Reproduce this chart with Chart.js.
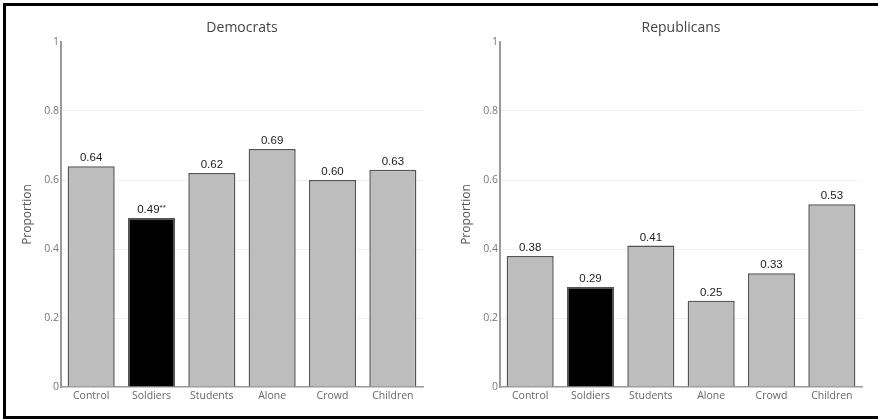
<!DOCTYPE html>
<html>
<head>
<meta charset="utf-8">
<script src="https://cdn.jsdelivr.net/npm/chart.js@4.4.1/dist/chart.umd.min.js"></script>
<style>
	body { margin: 0; background: #fff; }
	#page { position: relative; width: 878px; height: 419px; overflow: hidden; }
	#frame {
		position: absolute; left: 3px; top: 3px; width: 900px; height: 410px;
		border-top: 3px solid #000; border-left: 3px solid #000; border-bottom: 3px solid #000;
	}
	.panel { position: absolute; top: 0; width: 439px; height: 419px; }
	#demPanel { left: 0; }
	#repPanel { left: 439px; }
</style>
</head>
<body>
<div id="page">
	<div id="frame"></div>
	<div class="panel" id="demPanel"><canvas id="demChart" width="439" height="419"></canvas></div>
	<div class="panel" id="repPanel"><canvas id="repChart" width="439" height="419"></canvas></div>
</div>
<script>
const categories = ["Control", "Soldiers", "Students", "Alone", "Crowd", "Children"];
const democrats = [0.64, 0.49, 0.62, 0.69, 0.60, 0.63];
const republicans = [0.38, 0.29, 0.41, 0.25, 0.33, 0.53];
// significance marks printed after the value
const democratMarks = ["", "**", "", "", "", ""];
const republicanMarks = ["", "", "", "", "", ""];
const yTicks = [0, 0.2, 0.4, 0.6, 0.8, 1];
const yTickLabels = ["0", "0.2", "0.4", "0.6", "0.8", "1"];
const barColors = ["#bdbdbd", "#000000", "#bdbdbd", "#bdbdbd", "#bdbdbd", "#bdbdbd"];

// title centred over the plot area
const panelTitle = {
	id: "panelTitle",
	afterDraw(chart, args, opts) {
		const ctx = chart.ctx;
		const area = chart.chartArea;
		ctx.save();
		ctx.font = "14px 'Open Sans'";
		ctx.fillStyle = "#444";
		ctx.textAlign = "center";
		ctx.textBaseline = "middle";
		ctx.fillText(opts.text, (area.left + area.right) / 2, 28);
		ctx.restore();
	},
};

// value written above each bar
const barValues = {
	id: "barValues",
	afterDatasetsDraw(chart, args, opts) {
		const ctx = chart.ctx;
		const ds = chart.data.datasets[0];
		chart.getDatasetMeta(0).data.forEach((bar, i) => {
			const main = ds.data[i].toFixed(2);
			const mark = opts.marks[i];
			ctx.save();
			ctx.fillStyle = "#222";
			ctx.textBaseline = "middle";
			ctx.textAlign = "left";
			ctx.font = "11.5px 'Liberation Sans'";
			const wMain = ctx.measureText(main).width;
			ctx.font = "8px 'Liberation Sans'";
			const wMark = ctx.measureText(mark).width;
			const x0 = bar.x - (wMain + wMark) / 2;
			ctx.font = "11.5px 'Liberation Sans'";
			ctx.fillText(main, x0, bar.y - 8);
			ctx.font = "8px 'Liberation Sans'";
			ctx.fillText(mark, x0 + wMain, bar.y - 10);
			ctx.restore();
		});
	},
};

function initBars(chartElId, title, values, marks) {
	const ctx = document.getElementById(chartElId);
	new Chart(ctx, {
		type: "bar",
		data: {
			labels: categories,
			datasets: [
				{
					data: values,
					backgroundColor: barColors,
					borderColor: "#555",
					borderWidth: 1.5,
					categoryPercentage: 1,
					barPercentage: 0.78,
				},
			],
		},
		options: {
			responsive: false,
			animation: false,
			layout: { padding: { top: 42, left: 0, right: 16, bottom: 0 } },
			plugins: {
				legend: { display: false },
				tooltip: { enabled: false },
				panelTitle: { text: title },
				barValues: { marks: marks },
			},
			scales: {
				x: {
					grid: { display: false, drawTicks: false },
					border: { color: "#999", width: 1.5 },
					ticks: { color: "#666", font: { family: "Open Sans", size: 10.5 }, padding: 3 },
					afterFit: (scale) => { scale.height = 32; },
				},
				y: {
					min: 0,
					max: 1,
					afterBuildTicks: (scale) => { scale.ticks = yTicks.map((v) => ({ value: v })); },
					grid: {
						drawTicks: false,
						color: (c) => (c.tick.value === 0 || c.tick.value === 1 ? "rgba(0,0,0,0)" : "#f0f0f0"),
					},
					border: { color: "#9a9a9a", width: 2 },
					ticks: {
						color: "#777",
						font: { family: "Open Sans", size: 10.5 },
						padding: 2,
						callback: (v, i) => yTickLabels[i],
					},
					title: {
						display: true,
						text: "Proportion",
						color: "#555",
						font: { family: "Open Sans", size: 12 },
						padding: { top: 20, bottom: 0 },
					},
					afterFit: (scale) => { scale.width = 61; },
				},
			},
		},
		plugins: [panelTitle, barValues],
	});
}

initBars("demChart", "Democrats", democrats, democratMarks);
initBars("repChart", "Republicans", republicans, republicanMarks);
</script>
</body>
</html>
